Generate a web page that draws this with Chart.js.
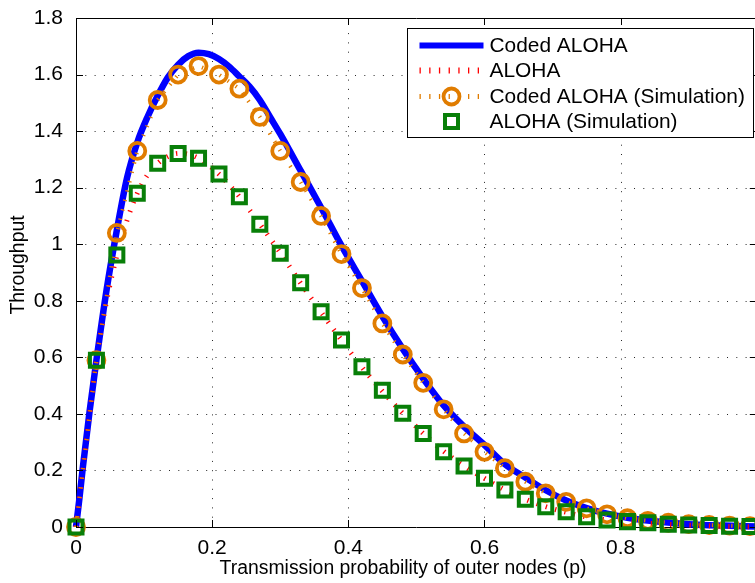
<!DOCTYPE html>
<html>
<head>
<meta charset="utf-8">
<script src="https://cdn.jsdelivr.net/npm/chart.js@4.4.1/dist/chart.umd.min.js"></script>
<style>
html, body { margin: 0; padding: 0; background: #fff; overflow: hidden; }
#wrap { position: relative; width: 770px; height: 583px; }
</style>
</head>
<body>
<div id="wrap"><canvas id="chart"></canvas></div>
<script>
// simulation points (p step 0.03)
const pSim = [0, 0.03, 0.06, 0.09, 0.12, 0.15, 0.18, 0.21, 0.24, 0.27, 0.30, 0.33, 0.36, 0.39, 0.42, 0.45, 0.48,
              0.51, 0.54, 0.57, 0.60, 0.63, 0.66, 0.69, 0.72, 0.75, 0.78, 0.81, 0.84, 0.87, 0.90, 0.93, 0.96, 0.99];
const codedSim = [0, 0.59, 1.04, 1.33, 1.51, 1.60, 1.63, 1.60, 1.55, 1.45, 1.33, 1.22, 1.10, 0.965, 0.845, 0.72, 0.61,
                  0.51, 0.416, 0.331, 0.266, 0.208, 0.160, 0.119, 0.089, 0.066, 0.045, 0.031, 0.022, 0.015, 0.010, 0.007, 0.005, 0.003];
const alohaSim = [0, 0.59, 0.962, 1.18, 1.286, 1.321, 1.304, 1.248, 1.168, 1.071, 0.968, 0.864, 0.761, 0.661, 0.567, 0.484, 0.402,
                  0.331, 0.266, 0.216, 0.172, 0.131, 0.098, 0.072, 0.054, 0.036, 0.025, 0.019, 0.015, 0.010, 0.007, 0.005, 0.003, 0.002];

// analytical curves
const pCoded = [0, 0.005, 0.01, 0.02, 0.03, 0.045, 0.06, 0.075, 0.09, 0.105, 0.12, 0.135, 0.15, 0.165, 0.18, 0.195, 0.21, 0.225,
                0.24, 0.255, 0.27, 0.285, 0.30, 0.33, 0.36, 0.39, 0.42, 0.45, 0.48, 0.51, 0.54, 0.57, 0.60, 0.63, 0.66, 0.69,
                0.72, 0.75, 0.78, 0.81, 0.85, 0.90, 0.95, 1.0];
const codedTheory = [0, 0.10, 0.21, 0.41, 0.59, 0.84, 1.05, 1.235, 1.36, 1.45, 1.525, 1.59, 1.635, 1.665, 1.677, 1.672, 1.655, 1.628,
                     1.593, 1.557, 1.51, 1.45, 1.39, 1.26, 1.13, 0.995, 0.87, 0.745, 0.63, 0.525, 0.43, 0.355, 0.29, 0.222, 0.175, 0.13,
                     0.094, 0.067, 0.047, 0.033, 0.02, 0.01, 0.005, 0.002];
const pAloha = [0, 0.01, 0.02, 0.03, 0.045, 0.06, 0.075, 0.09, 0.105, 0.12, 0.135, 0.15, 0.165, 0.18, 0.21, 0.24, 0.27, 0.30,
                0.33, 0.36, 0.39, 0.42, 0.45, 0.48, 0.51, 0.54, 0.57, 0.60, 0.63, 0.66, 0.69, 0.72, 0.75, 0.78, 0.81, 0.84,
                0.87, 0.90, 0.93, 0.96, 1.0];
const alohaTheory = [0, 0.2, 0.4, 0.59, 0.80, 0.96, 1.085, 1.18, 1.245, 1.286, 1.31, 1.321, 1.318, 1.304, 1.248, 1.168, 1.071, 0.97,
                     0.862, 0.76, 0.66, 0.565, 0.48, 0.402, 0.331, 0.268, 0.216, 0.172, 0.131, 0.098, 0.072, 0.052, 0.036, 0.025, 0.018, 0.013,
                     0.009, 0.006, 0.004, 0.002, 0.001];

const legendLabels = ['Coded ALOHA', 'ALOHA', 'Coded ALOHA (Simulation)', 'ALOHA (Simulation)'];
const xTitle = 'Transmission probability of outer nodes (p)';
const yTitle = 'Throughput';

const FONT = "'Liberation Sans', Arial, Helvetica, sans-serif";
const BLUE = '#0000ff', RED = '#ff0000', ORANGE = '#e07c00', GREEN = '#087f08';

const toXY = (xs, ys) => xs.map((x, i) => ({ x: x, y: ys[i] }));

// dotted grid under the data
const dottedGrid = {
  id: 'dottedGrid',
  beforeDatasetsDraw(chart) {
    const ctx = chart.ctx, a = chart.chartArea;
    const xs = chart.scales.x, ys = chart.scales.y;
    ctx.save();
    ctx.strokeStyle = 'rgba(0,0,0,0.85)';
    ctx.lineWidth = 1;
    ctx.setLineDash([1, 8.3]);
    ctx.beginPath();
    xs.ticks.forEach(t => {
      const px = Math.round(xs.getPixelForValue(t.value)) + 0.5;
      if (t.value === 0) return;
      ctx.moveTo(px, a.bottom); ctx.lineTo(px, a.top);
    });
    ys.ticks.forEach(t => {
      const py = Math.round(ys.getPixelForValue(t.value)) + 0.5;
      if (t.value === 0) return;
      ctx.moveTo(a.left, py); ctx.lineTo(a.right, py);
    });
    ctx.stroke();
    ctx.restore();
  }
};

// frame: top border + inward tick marks (matlab style) + axis titles
const axesFrame = {
  id: 'axesFrame',
  afterDatasetsDraw(chart) {
    const ctx = chart.ctx, a = chart.chartArea;
    const xs = chart.scales.x, ys = chart.scales.y;
    ctx.save();
    ctx.strokeStyle = '#000';
    ctx.lineWidth = 1;
    ctx.beginPath();
    ctx.moveTo(a.left, a.top + 0.5);
    ctx.lineTo(a.right, a.top + 0.5);
    xs.ticks.forEach(t => {
      const px = Math.round(xs.getPixelForValue(t.value)) + 0.5;
      ctx.moveTo(px, a.bottom); ctx.lineTo(px, a.bottom - 7);
      ctx.moveTo(px, a.top); ctx.lineTo(px, a.top + 7);
    });
    ys.ticks.forEach(t => {
      const py = Math.round(ys.getPixelForValue(t.value)) + 0.5;
      ctx.moveTo(a.left, py); ctx.lineTo(a.left + 7, py);
      ctx.moveTo(a.right, py); ctx.lineTo(a.right - 7, py);
    });
    ctx.stroke();

    ctx.fillStyle = '#000';
    ctx.font = '19.4px ' + FONT;
    ctx.textAlign = 'center';
    ctx.textBaseline = 'middle';
    ctx.fillText(xTitle, a.left + 327, a.bottom + 42);
    ctx.translate(18.5, a.top + 247);
    ctx.rotate(-Math.PI / 2);
    ctx.fillText(yTitle, 0, 0);
    ctx.restore();
  }
};

// legend box inside the axes, top right
const insideLegend = {
  id: 'insideLegend',
  afterDraw(chart) {
    const ctx = chart.ctx, a = chart.chartArea;
    const bx = Math.round(a.right - 350) + 0.5, by = Math.round(a.top + 10) + 0.5;
    const bw = 346, bh = 109;
    ctx.save();
    ctx.fillStyle = '#fff';
    ctx.fillRect(bx, by, bw, bh);
    ctx.strokeStyle = '#000';
    ctx.lineWidth = 1;
    ctx.strokeRect(bx, by, bw, bh);

    const rows = [17, 42, 68, 93];
    const x0 = bx + 12, x1 = bx + 76, cx = bx + 44;
    // Coded ALOHA
    ctx.strokeStyle = BLUE; ctx.lineWidth = 6;
    ctx.beginPath(); ctx.moveTo(x0, by + rows[0]); ctx.lineTo(x1, by + rows[0]); ctx.stroke();
    // ALOHA
    ctx.strokeStyle = RED; ctx.lineWidth = 6; ctx.setLineDash([1.3, 8.4]);
    ctx.beginPath(); ctx.moveTo(x0, by + rows[1]); ctx.lineTo(x1, by + rows[1]); ctx.stroke();
    // Coded ALOHA (Simulation)
    ctx.strokeStyle = ORANGE; ctx.lineWidth = 5;
    ctx.beginPath(); ctx.moveTo(x0, by + rows[2]); ctx.lineTo(x1, by + rows[2]); ctx.stroke();
    ctx.setLineDash([]);
    ctx.lineWidth = 3.8;
    ctx.beginPath(); ctx.arc(cx, by + rows[2], 8, 0, Math.PI * 2); ctx.stroke();
    // ALOHA (Simulation)
    ctx.strokeStyle = GREEN; ctx.lineWidth = 4;
    ctx.strokeRect(cx - 6.5, by + rows[3] - 6.5, 13, 13);

    ctx.fillStyle = '#000';
    ctx.font = '20.9px ' + FONT;
    ctx.textBaseline = 'middle';
    legendLabels.forEach((s, i) => ctx.fillText(s, bx + 82, by + rows[i] + 1));
    ctx.restore();
  }
};

new Chart(document.getElementById('chart'), {
  type: 'line',
  data: {
    datasets: [
      { label: legendLabels[3], data: toXY(pSim, alohaSim), order: 1,
        showLine: false, pointStyle: 'rect', pointRadius: 9.2, pointHoverRadius: 9.2,
        borderColor: GREEN, backgroundColor: 'transparent', pointBorderWidth: 4, clip: false },
      { label: legendLabels[2], data: toXY(pSim, codedSim), order: 2,
        borderColor: ORANGE, borderWidth: 4, borderDash: [1.3, 8.4], tension: 0,
        pointStyle: 'circle', pointRadius: 8, pointHoverRadius: 8, pointBorderWidth: 3.8,
        pointBorderColor: ORANGE, pointBackgroundColor: 'transparent', backgroundColor: 'transparent', clip: false },
      { label: legendLabels[1], data: toXY(pAloha, alohaTheory), order: 3,
        borderColor: RED, borderWidth: 5, borderDash: [1.3, 8.4], pointRadius: 0,
        cubicInterpolationMode: 'monotone', clip: false },
      { label: legendLabels[0], data: toXY(pCoded, codedTheory), order: 4,
        borderColor: BLUE, borderWidth: 6.5, pointRadius: 0,
        cubicInterpolationMode: 'monotone', clip: false }
    ]
  },
  options: {
    responsive: true, maintainAspectRatio: false, animation: false,
    layout: { padding: { top: 18, right: 1, left: 0, bottom: 0 } },
    plugins: { legend: { display: false }, tooltip: { enabled: false } },
    scales: {
      x: {
        type: 'linear', min: 0, max: 1,
        afterFit: s => { s.height = 56; },
        ticks: { stepSize: 0.2, color: '#000', font: { family: FONT, size: 21 }, padding: 1, maxRotation: 0,
                 callback: v => (v >= 0.999 ? '' : String(Math.round(v * 10) / 10)) },
        grid: { display: false },
        border: { color: '#000', width: 1 }
      },
      y: {
        min: 0, max: 1.8,
        afterFit: s => { s.width = 76; },
        ticks: { stepSize: 0.2, color: '#000', font: { family: FONT, size: 21 }, padding: 5,
                 callback: v => String(Math.round(v * 10) / 10) },
        grid: { display: false },
        border: { color: '#000', width: 1 }
      }
    }
  },
  plugins: [dottedGrid, axesFrame, insideLegend]
});
</script>
</body>
</html>
